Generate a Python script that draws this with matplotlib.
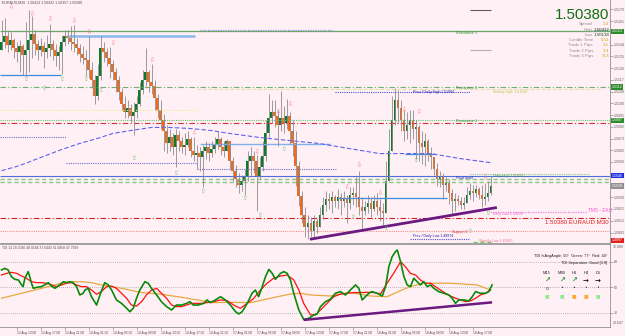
import matplotlib
matplotlib.use("Agg")
import matplotlib.pyplot as plt
import numpy as np

plt.rcParams['font.family'] = ['Liberation Sans', 'DejaVu Sans']

# ---- EURAUD M30 candles, oldest first
first_open = 1.51400
close = [1.51455, 1.51500, 1.51433, 1.51470, 1.51410, 1.51380, 1.51425, 1.51358, 1.51395, 1.51470,
         1.51515, 1.51440, 1.51395, 1.51425, 1.51380, 1.51410, 1.51440, 1.51395, 1.51350, 1.51380,
         1.51455, 1.51500, 1.51485, 1.51455, 1.51440, 1.51410, 1.51365, 1.51335, 1.51320, 1.51245,
         1.51170, 1.51050, 1.51200, 1.51410, 1.51380, 1.51335, 1.51290, 1.51230, 1.51170, 1.51080,
         1.50990, 1.50930, 1.50960, 1.50900, 1.50930, 1.50990, 1.51095, 1.51170, 1.51230, 1.51155,
         1.51125, 1.51035, 1.50945, 1.50870, 1.50795, 1.50705, 1.50750, 1.50675, 1.50765, 1.50720,
         1.50675, 1.50690, 1.50735, 1.50645, 1.50615, 1.50630, 1.50600, 1.50645, 1.50675, 1.50630,
         1.50660, 1.50690, 1.50735, 1.50675, 1.50645, 1.50720, 1.50570, 1.50495, 1.50435, 1.50390,
         1.50420, 1.50450, 1.50570, 1.50608, 1.50570, 1.50450, 1.50525, 1.50608, 1.50780, 1.50885,
         1.50930, 1.50900, 1.50840, 1.50885, 1.50855, 1.50900, 1.50795, 1.50705, 1.50533, 1.50308,
         1.50165, 1.50075, 1.50105, 1.50045, 1.50120, 1.50075, 1.50165, 1.50240, 1.50285, 1.50270,
         1.50300, 1.50270, 1.50300, 1.50270, 1.50285, 1.50255, 1.50315, 1.50330, 1.50300, 1.50225,
         1.50195, 1.50225, 1.50255, 1.50210, 1.50270, 1.50225, 1.50195, 1.50180, 1.50420, 1.50645,
         1.50870, 1.51020, 1.50960, 1.50870, 1.50795, 1.50840, 1.50870, 1.50810, 1.50825, 1.50705,
         1.50675, 1.50720, 1.50630, 1.50600, 1.50510, 1.50435, 1.50450, 1.50390, 1.50405, 1.50330,
         1.50270, 1.50285, 1.50270, 1.50240, 1.50255, 1.50315, 1.50345, 1.50330, 1.50360, 1.50315,
         1.50285, 1.50300, 1.50330, 1.50380]
high = [1.51620, 1.51635, 1.51545, 1.51530, 1.51485, 1.51455, 1.51470, 1.51440, 1.51605, 1.51695,
        1.51650, 1.51545, 1.51470, 1.51485, 1.51455, 1.51508, 1.51590, 1.51470, 1.51440, 1.51425,
        1.51508, 1.51545, 1.51545, 1.51575, 1.51583, 1.51485, 1.51440, 1.51425, 1.51395, 1.51500,
        1.51305, 1.51208, 1.51290, 1.51500, 1.51455, 1.51410, 1.51418, 1.51320, 1.51260, 1.51200,
        1.51110, 1.51050, 1.51020, 1.50990, 1.51005, 1.51050, 1.51155, 1.51245, 1.51410, 1.51245,
        1.51290, 1.51170, 1.51065, 1.51020, 1.50915, 1.50840, 1.50810, 1.50780, 1.50810, 1.50795,
        1.50750, 1.50780, 1.50795, 1.50750, 1.50750, 1.50690, 1.50675, 1.50690, 1.50720, 1.50705,
        1.50720, 1.50750, 1.50795, 1.50750, 1.50720, 1.50735, 1.50675, 1.50600, 1.50540, 1.50480,
        1.50465, 1.50510, 1.50645, 1.50675, 1.50645, 1.50615, 1.50600, 1.50720, 1.50870, 1.51065,
        1.51020, 1.51020, 1.50945, 1.51088, 1.50975, 1.51028, 1.50930, 1.50870, 1.50795, 1.50570,
        1.50345, 1.50225, 1.50165, 1.50150, 1.50165, 1.50135, 1.50225, 1.50300, 1.50345, 1.50330,
        1.50345, 1.50315, 1.50360, 1.50330, 1.50345, 1.50315, 1.50375, 1.50375, 1.50450, 1.50495,
        1.50300, 1.50270, 1.50315, 1.50300, 1.50315, 1.50330, 1.50285, 1.50255, 1.50570, 1.50810,
        1.51050, 1.51110, 1.51095, 1.51020, 1.50945, 1.50930, 1.50945, 1.50945, 1.50870, 1.50840,
        1.50795, 1.50773, 1.50735, 1.50675, 1.50600, 1.50555, 1.50495, 1.50480, 1.50450, 1.50435,
        1.50360, 1.50330, 1.50315, 1.50300, 1.50300, 1.50375, 1.50405, 1.50390, 1.50390, 1.50375,
        1.50390, 1.50405, 1.50420, 1.50458]
low = [1.51395, 1.51410, 1.51380, 1.51395, 1.51335, 1.51305, 1.51230, 1.51208, 1.51200, 1.51230,
       1.51335, 1.51358, 1.51320, 1.51350, 1.51260, 1.51335, 1.51350, 1.51320, 1.51275, 1.51245,
       1.51215, 1.51425, 1.51440, 1.51395, 1.51380, 1.51358, 1.51305, 1.51290, 1.51200, 1.51185,
       1.51110, 1.50990, 1.51020, 1.51170, 1.51305, 1.51275, 1.51185, 1.51170, 1.51080, 1.51020,
       1.50945, 1.50885, 1.50885, 1.50855, 1.50765, 1.50885, 1.50975, 1.51065, 1.51125, 1.51080,
       1.51065, 1.50945, 1.50885, 1.50810, 1.50645, 1.50630, 1.50645, 1.50615, 1.50525, 1.50645,
       1.50630, 1.50615, 1.50675, 1.50600, 1.50570, 1.50510, 1.50495, 1.50375, 1.50585, 1.50570,
       1.50600, 1.50630, 1.50660, 1.50615, 1.50600, 1.50645, 1.50510, 1.50420, 1.50375, 1.50330,
       1.50345, 1.50315, 1.50420, 1.50458, 1.50480, 1.50195, 1.50435, 1.50495, 1.50570, 1.50750,
       1.50855, 1.50825, 1.50683, 1.50795, 1.50780, 1.50810, 1.50698, 1.50608, 1.50383, 1.50233,
       1.50105, 1.50000, 1.49985, 1.50000, 1.49985, 1.50030, 1.50075, 1.50135, 1.50195, 1.50210,
       1.50180, 1.50225, 1.50210, 1.50165, 1.50225, 1.50105, 1.50210, 1.50240, 1.50225, 1.50165,
       1.50060, 1.50165, 1.50180, 1.50150, 1.50195, 1.50165, 1.50120, 1.50075, 1.50180, 1.50495,
       1.50720, 1.50833, 1.50855, 1.50795, 1.50720, 1.50735, 1.50705, 1.50735, 1.50585, 1.50570,
       1.50548, 1.50533, 1.50570, 1.50510, 1.50465, 1.50383, 1.50375, 1.50285, 1.50345, 1.50248,
       1.50173, 1.50195, 1.50240, 1.50210, 1.50210, 1.50270, 1.50285, 1.50270, 1.50300, 1.50285,
       1.50225, 1.50240, 1.50270, 1.50315]

# moving average (blue dashed), read at some bars
ma_i = [0, 6, 13, 20, 26, 33, 37, 43, 50, 56, 63, 70, 76, 86, 96, 106, 116, 126, 136, 143, 153, 163]
ma_v = [1.50495, 1.50533, 1.50593, 1.50653, 1.50698, 1.50743, 1.50773, 1.50795, 1.50818, 1.50818,
        1.50810, 1.50795, 1.50773, 1.50743, 1.50720, 1.50698, 1.50660, 1.50623, 1.50623, 1.50623,
        1.50585, 1.50555]

# fractal arrows
dn_i = [3, 10, 16, 24, 29, 37, 50, 64, 75, 85, 92, 96, 115, 119, 126, 134, 139, 161]
dn_p = [1.51718, 1.51665, 1.51628, 1.51613, 1.51530, 1.51448, 1.51320, 1.50773, 1.50698, 1.50630,
        1.50930, 1.50990, 1.50368, 1.50533, 1.50323, 1.50945, 1.50930, 1.50443]
up_i = [8, 14, 20, 28, 33, 44, 58, 67, 81, 86, 94, 117, 128, 138, 156, 162]
up_p = [1.51178, 1.51110, 1.51178, 1.51178, 1.51095, 1.50585, 1.50473, 1.50338, 1.50285, 1.50158,
        1.50653, 1.50143, 1.50060, 1.50570, 1.50038, 1.50173]

# trend line on price
trend_i = [102.8, 165.1]
trend_p = [1.49983, 1.50220]

# price levels
res3, res2, res1 = 1.51535, 1.51121, 1.50870
prev_high, prev_low = 1.51084, 1.49974
day_high, day_low = 1.50432, 1.50138
pivot = 1.50458
bid = 1.50380

# right price scale (ticks hidden under the coloured level boxes are left out)
price_ticks = [1.51700, 1.51613, 1.51437, 1.51349, 1.51262, 1.51174, 1.51086, 1.50998,
               1.50911, 1.50823, 1.50735, 1.50647, 1.50560, 1.50296, 1.50209,
               1.50121, 1.50033]

# ---- TDI sub window
green_i = [0, 1.1, 2.2, 3.3, 4.4, 5.6, 6.7, 7.2, 7.8, 8.9, 9.4, 10, 10.6, 11.7, 13.3, 15, 15.6, 16.7,
           17.8, 19.4, 20.6, 21.7, 22.8, 23.9, 25, 26.1, 27.2, 27.8, 28.9, 30, 31.7, 32.8, 34.4, 35.6,
           36.7, 38.3, 40, 41.7, 42.8, 43.9, 45, 46.1, 47.8, 48.9, 50, 51.7, 53.3, 55, 56.7, 58.3, 60,
           61.7, 62.8, 63.9, 65.6,
           67.4, 68.5, 69.6, 71.3, 73, 74.6, 76.3, 78, 79.1, 80.2, 81.9, 83.5, 84.6, 85.7, 86.9, 88,
           89.1, 90.2, 91.3, 93, 94.1, 95.2, 96.3, 97.4, 99.1, 100.7, 102.4, 104.1, 105.2, 106.3, 108,
           109.6, 111.3, 113, 114.6, 116.3, 118, 119.1, 120.2, 121.3, 122.4, 123.5, 125.2, 126.9, 128,
           129.1, 130.2, 131.3, 131.9, 133, 134.1, 135.2, 136.3, 137.4, 138.5, 139.6, 140.7, 141.9,
           143, 144.1, 145.7, 147.4, 149.1, 150.2, 151.3, 152.4, 154.1, 155.7, 156.9, 158, 159.6,
           161.3, 162.4, 163.5]
green_v = [62.4, 63.5, 62.4, 57.7, 55.8, 55.3, 51.8, 50.6, 56.5, 61.2, 57.7, 53.0, 49.4, 50.1, 50.6,
           52.5, 53.4, 51.0, 49.4, 51.8, 54.1, 53.4, 54.1, 53.4, 50.6, 44.7, 45.9, 48.2, 49.4, 43.5,
           37.6, 44.7, 53.4, 51.8, 48.2, 41.2, 38.8, 35.3, 32.9, 35.3, 42.4, 48.2, 54.1, 53.0, 49.4,
           44.7, 40.0, 36.5, 34.1, 37.6, 37.6, 38.8, 40.0, 37.6, 37.6,
           38.8, 41.2, 39.3, 41.2, 43.5, 41.2, 37.6, 32.9, 31.3, 32.9, 38.8, 45.9, 48.2, 43.5, 50.6,
           57.7, 62.8, 60.0, 55.8, 60.0, 61.2, 60.0, 55.3, 45.9, 34.1, 27.5, 28.2, 30.6, 31.3, 36.5,
           40.0, 41.7, 45.9, 47.1, 44.7, 48.2, 51.8, 49.4, 41.2, 43.5, 45.9, 47.1, 45.9, 44.0, 50.6,
           64.7, 71.8, 75.3, 76.5, 68.2, 57.7, 51.8, 50.6, 56.5, 54.1, 51.8, 54.1, 50.6, 51.8, 49.4,
           47.1, 45.9, 44.7, 42.4, 38.8, 41.2, 41.2, 40.5, 43.5, 47.1, 45.9, 45.9, 47.1, 51.8]
red_i = [0, 1.7, 3.3, 5, 6.7, 8.3, 10, 11.7, 13.3, 15, 16.7, 18.3, 20, 21.7, 23.3, 25, 26.7, 28.3, 30,
         31.7, 33.3, 35, 36.7, 38.3, 40, 41.7, 43.3, 45, 46.7, 48.3, 50, 51.7, 53.3, 55, 56.7, 58.3,
         60, 61.7, 63.3, 65, 66.7, 68.5, 70.7, 73, 75.2, 77.4, 79.6, 81.9, 84.1, 86.3, 88.5, 90.7, 93,
         95.2, 97.4, 99.1, 100.7, 103, 104.6, 106.3, 108.5, 110.7, 113, 115.2, 117.4, 119.6, 121.9,
         124.1, 126.3, 128.5, 130.7, 133, 134.6, 136.3, 138, 139.6, 141.3, 143, 144.6, 146.3, 148,
         149.6, 151.3, 153, 154.6, 156.3, 158, 159.6, 161.3, 163]
red_v = [58.8, 60.0, 60.7, 60.0, 58.1, 56.5, 54.1, 53.4, 53.4, 53.0, 51.8, 50.6, 51.8, 53.0, 53.4,
         51.8, 50.6, 50.6, 48.2, 45.2, 47.1, 50.6, 51.0, 49.4, 45.9, 42.4, 37.6, 36.9, 40.0, 44.7,
         48.2, 49.4, 45.9, 42.4, 37.6, 36.5, 36.5, 37.6, 38.8, 38.8, 38.8, 39.3, 40.0, 41.2, 40.7,
         37.6, 35.3, 38.8, 42.4, 48.2, 53.0, 56.5, 58.1, 58.8, 55.3, 48.2, 38.8, 30.6, 30.6, 34.1,
         38.8, 43.5, 45.4, 45.9, 46.4, 46.4, 46.6, 46.4, 45.4, 53.0, 60.0, 68.2, 64.7, 60.0, 58.8,
         55.3, 53.0, 53.0, 50.6, 48.2, 45.9, 44.0, 42.4, 41.2, 40.0, 40.5, 42.4, 44.7, 45.9, 48.2]
base_i = [0, 6.7, 13.3, 20, 23.3, 26.7, 30, 33.3, 40, 46.7, 53.3, 60, 66.7, 69.6, 76.3, 83, 89.6,
          96.3, 99.6, 103, 109.6, 116.3, 123, 128.5, 133, 136.3, 140.7, 149.6, 158.5, 163]
base_v = [42.4, 45.9, 49.4, 53.0, 54.1, 54.1, 53.4, 51.8, 49.4, 46.4, 45.2, 43.1, 40.7, 39.3, 39.5,
          39.3, 42.4, 45.4, 45.9, 44.7, 44.0, 46.4, 44.0, 43.5, 47.8, 50.6, 53.0, 53.0, 51.8, 48.2]
tdi_trend_i = [100.7, 163.5]
tdi_trend_v = [27.1, 39.5]
tdi_levels = [68, 50, 32]

# time axis
time_i = [5, 13, 21, 29, 37, 45, 53, 61, 69, 77, 85, 93, 101, 109, 117, 125, 133, 141, 149, 157]
time_lbl = ['13 Aug 13:00', '13 Aug 17:00', '13 Aug 21:00', '14 Aug 01:00', '14 Aug 05:00',
            '14 Aug 09:00', '14 Aug 13:00', '14 Aug 17:00', '14 Aug 21:00', '17 Aug 01:00',
            '17 Aug 05:00', '17 Aug 09:00', '17 Aug 13:00', '17 Aug 17:00', '17 Aug 21:00',
            '18 Aug 01:00', '18 Aug 05:00', '18 Aug 09:00', '18 Aug 13:00', '18 Aug 17:00']

# dashboard
info_lbl = ['Spread', 'High', 'Low', 'Candle Time', 'Trade 1 Pips', 'Trade 2 Pips', 'Trade 3 Pips']
info_val = ['1.3', '1.50432', '1.50138', '5:51', '3.1', '1.3', '-8.3']
tf_lbl = ['M15', 'M30', 'H1', 'H4', 'D1']
tf_arrow = ['↗', '↗', '↗', '→', '→']
tf_state = ['#90e890', '#90e890', '#ffa530', '#ffa530', '#90e890']

# ---------------------------------------------------------------
W, H = 625, 336
bg = '#fff0f5'
fig = plt.figure(figsize=(W / 100, H / 100), dpi=100)
fig.patch.set_facecolor(bg)
ax = fig.add_axes([0, 1 - 243 / H, 610 / W, 243 / H], facecolor=bg)
sub = fig.add_axes([0, 1 - 327 / H, 610 / W, 83 / H], facecolor=bg)


def px(x, y):
    return x / W, 1 - y / H


close = np.array(close)
high = np.array(high)
low = np.array(low)
n = len(close)
idx = np.arange(n)
opens = np.r_[first_open, close[:-1]]
hi = np.maximum(high, np.maximum(opens, close))
lo = np.minimum(low, np.minimum(opens, close))
up = close >= opens
body = close - opens
body = np.where(np.abs(body) < 0.00004, np.where(up, 0.00004, -0.00004), body)

x0, x1 = -0.5, 202.8
ax.set_xlim(x0, x1)
ax.set_ylim(1.49955, 1.51770)

# ---- levels
ax.hlines(res3, x0, x1, color='#6aa86a', lw=0.9)
ax.hlines(1.51543, 66.2, 110.5, color='#9090e0', lw=0.9, linestyles=(0, (1, 1)))
ax.hlines(1.51543, 197.5, x1, color='#9090e0', lw=0.9, linestyles=(0, (1, 1)))
ax.hlines(1.51500, 21.8, 64.5, color='#8ab8f0', lw=1.8)
ax.hlines(1.51208, x0, 19.8, color='#3d8be0', lw=0.9)
ax.hlines(res2, x0, x1, color='#70b070', lw=0.8, linestyles=(0, (5, 2, 1, 2)))
ax.hlines(1.51103, 65.2, 199.5, color='#e0e0a0', lw=0.8, linestyles=(0, (3, 2)))
ax.hlines(prev_high, 111.2, 156.2, color='#5050d0', lw=0.8, linestyles=(0, (1, 1)))
ax.hlines(1.50945, x0, 65.2, color='#f0f090', lw=0.8, linestyles=(0, (1, 1)))
ax.hlines(res1, x0, x1, color='#70c070', lw=0.8, linestyles=(0, (1, 1)))
ax.hlines(1.50848, x0, x1, color='#d03030', lw=0.8, linestyles=(0, (5, 2, 1, 2)))
ax.hlines(1.50750, x0, 21.5, color='#7070d0', lw=0.8, linestyles=(0, (1, 1)))
ax.hlines(1.50698, 66.2, 109.5, color='#80b0ee', lw=1.0)
ax.hlines(1.50555, 21.5, 65.2, color='#7070d0', lw=0.8, linestyles=(0, (1, 1)))
ax.hlines(1.50510, 65.2, 111.8, color='#7070d0', lw=0.8, linestyles=(0, (1, 1)))
ax.hlines(1.50623, 134.5, 144.5, color='#3d8be0', lw=0.9)
ax.hlines(pivot, x0, x1, color='#4f6fd8', lw=0.8)
ax.hlines(1.50473, 156.2, 196.2, color='#80d080', lw=0.8, linestyles=(0, (1, 1)))
ax.hlines(1.50435, x0, x1, color='#88c888', lw=1.0, linestyles=(0, (3, 2)))
ax.hlines(1.50413, x0, x1, color='#88c888', lw=1.0, linestyles=(0, (3, 2)))
ax.hlines(1.50293, 112.2, 148.5, color='#3d8be0', lw=0.9)
ax.hlines(1.50188, 162.8, 195.2, color='#f080e0', lw=0.9, linestyles=(0, (1, 1)))
ax.hlines(day_low, x0, x1, color='#d02020', lw=0.8, linestyles=(0, (5, 2, 1, 2)))
ax.hlines(1.50045, x0, x1, color='#f09090', lw=0.8, linestyles=(0, (1, 1)))
ax.hlines(1.49985, 136.2, 156.2, color='#5050d0', lw=0.8, linestyles=(0, (1, 1)))
ax.hlines(1.49962, 157.2, 163.5, color='#60d060', lw=1.0, linestyles=(0, (3, 2)))
ax.hlines([1.51695], 156, 163, color='#606060', lw=0.8)
ax.hlines([1.51395], 156, 163, color='#b0b0b0', lw=0.8)

# ---- moving average and candles
ax.plot(ma_i, ma_v, color='#6060f0', lw=0.8, ls=(0, (4, 2)))
ax.vlines(idx, lo, hi, color='#8c8c8c', lw=0.6)
ax.bar(idx[up], body[up], bottom=opens[up], width=0.7, color='#0d7a2c', lw=0)
ax.bar(idx[~up], body[~up], bottom=opens[~up], width=0.7, color='#f26a1c', lw=0)
ax.plot(trend_i, trend_p, color='#6a1a80', lw=2.0, solid_capstyle='butt')

for i, p in zip(dn_i, dn_p):
    ax.text(i, p, '⇩', color='#ff7070', fontsize=4.2, ha='center', va='center', family='DejaVu Sans')
for i, p in zip(up_i, up_p):
    ax.text(i, p, '⇧', color='#60c060', fontsize=4.2, ha='center', va='center', family='DejaVu Sans')

# level captions
cap = dict(fontsize=2.6, va='center')
ax.text(151.5, res3 - 0.00012, 'Resistance 3', color='#2f8f2f', **cap)
ax.text(151.5, res2 - 0.00010, 'Resistance 2', color='#2f8f2f', **cap)
ax.text(137.2, prev_high - 0.00002, 'Prev / Daily High 1.51084', color='#2020b0', **cap)
ax.text(163.8, prev_high - 0.00002, 'Weekly High 1.51084', color='#b8c850', **cap)
ax.text(151.5, res1 - 0.00005, 'Resistance 1', color='#2f8f2f', **cap)
ax.text(151.5, 1.50437, 'Pivot level', color='#2020b0', **cap)
ax.text(163.8, 1.50452, 'Daily High 1.50432', color='#40a040', **cap)
ax.text(163.8, 1.50168, 'Daily Low 1.50138', color='#f060d0', **cap)
ax.text(195.4, 1.50195, 'TMS - EKC', color='#f060d0', fontsize=3.4, va='center')
ax.text(202.2, 1.50108, '1.50380 EURAUD M30', color='#e02020', fontsize=4.4, va='center', ha='right')
ax.text(150.0, 1.50040, 'Support 1', color='#d03030', **cap)
ax.text(137.2, 1.50008, 'Prev / Daily Low 1.49974', color='#2020b0', **cap)
ax.text(159.0, 1.49968, 'Weekly Low 1.49925', color='#f07090', **cap)

# ---- axes styling
for s in ['left', 'top']:
    ax.spines[s].set_visible(False)
    sub.spines[s].set_visible(False)
for a in (ax, sub):
    for s in ['right', 'bottom']:
        a.spines[s].set_color('#909090')
        a.spines[s].set_linewidth(0.6)
sub.spines['top'].set_visible(True)
sub.spines['top'].set_color('#909090')
sub.spines['top'].set_linewidth(0.6)
ax.set_xticks([])
ax.yaxis.tick_right()
ax.set_yticks(price_ticks)
ax.set_yticklabels([f'{p:.4f}' for p in price_ticks])
ax.tick_params(axis='y', length=2, width=0.5, color='#909090', labelsize=2.6, labelcolor='#606060', pad=1)

ytr = ax.get_yaxis_transform()
for p, fc in [(res3, '#2e8b2e'), (res2, '#2e8b2e'), (res1, '#2e8b2e'),
              (pivot, '#2030e0'), (bid, '#909090'), (prev_low, '#e02020')]:
    ax.text(1.003, p, f'{p:.4f}', transform=ytr, color='white', fontsize=2.6, va='center', ha='left',
            bbox=dict(facecolor=fc, edgecolor='none', pad=0.6), clip_on=False)

# header
fig.text(*px(2, 3), 'EURAUD,M30  1.50413 1.50432 1.50357 1.50380', fontsize=2.6, color='#505050', va='center')

# dashboard at top right
fig.text(*px(609, 15), '1.50380', fontsize=10.8, color='#107010', ha='right', va='center')
info_y = [24, 29.7, 34.7, 40, 45.3, 50.7, 56]
for lb, vl, yy in zip(info_lbl, info_val, info_y):
    fig.text(*px(593, yy), lb, fontsize=3.2, color='#909090', ha='right', va='center')
    if lb in ('High', 'Low'):
        fig.text(*px(594, yy), vl, fontsize=3.2, color='#184818', ha='left', va='center')
    else:
        fig.text(*px(609, yy), vl, fontsize=3.2, color='#d49a10', ha='right', va='center')

# ---- TDI window
sub.set_xlim(x0, x1)
sub.set_ylim(22.1, 80.7)
sub.hlines(tdi_levels, x0, x1, color='#a0a0a0', lw=0.6, linestyles=(0, (1, 1.5)))
sub.plot(base_i, base_v, color='#e8a840', lw=0.9)
sub.plot(red_i, red_v, color='#ff1010', lw=0.9)
sub.plot(green_i, green_v, color='#0a8a0a', lw=1.2)
sub.plot(tdi_trend_i, tdi_trend_v, color='#6a1a80', lw=1.8, solid_capstyle='butt')

sub.yaxis.tick_right()
sub.set_yticks(tdi_levels)
sub.set_yticklabels([str(v) for v in tdi_levels])
sub.tick_params(axis='y', length=2, width=0.5, color='#909090', labelsize=2.6, labelcolor='#606060', pad=1)
sub.text(1.004, 0.985, '76.989', transform=sub.transAxes, fontsize=2.6, color='#606060', va='top')
sub.text(1.004, 0.02, '22.647', transform=sub.transAxes, fontsize=2.6, color='#606060', va='bottom')

sub.set_xticks(time_i)
sub.set_xticklabels(time_lbl)
sub.tick_params(axis='x', length=2, width=0.5, color='#909090', labelsize=2.3, labelcolor='#505050', pad=1.2)
for t in sub.get_xticklabels():
    t.set_ha('left')

fig.text(*px(2, 248), 'TDI 13 20.3026 48.0184 37.6443 51.6858 47.7999', fontsize=2.4, color='#505050', va='center')
fig.text(*px(607, 256), 'TDI fsAvgAngle: 50°  Green: 77°  Red: 40°', fontsize=2.8, color='#202020',
         ha='right', va='center')
fig.text(*px(607, 263), 'TDI Separation: Good [3.0]', fontsize=2.8, color='#202020', ha='right', va='center')
tf_x = [547, 562, 574, 586, 598]
for k, (xx, lb, ar, st) in enumerate(zip(tf_x, tf_lbl, tf_arrow, tf_state)):
    fig.text(*px(xx, 273), lb, fontsize=2.9, color='#202020', ha='center', va='center')
    fig.text(*px(xx, 281), ar, fontsize=5, color='#2a9a2a' if ar == '↗' else '#101010',
             ha='center', va='center', family='DejaVu Sans', weight='bold')
    fig.text(*px(xx, 288), 'o' if k == 0 else '•', fontsize=3.5, color='#404040', ha='center', va='center',
             family='DejaVu Sans')
    fig.text(*px(xx, 296), '■', fontsize=3.5, color=st, ha='center', va='center', family='DejaVu Sans')

fig.savefig('out.png', dpi=100, facecolor=bg)
